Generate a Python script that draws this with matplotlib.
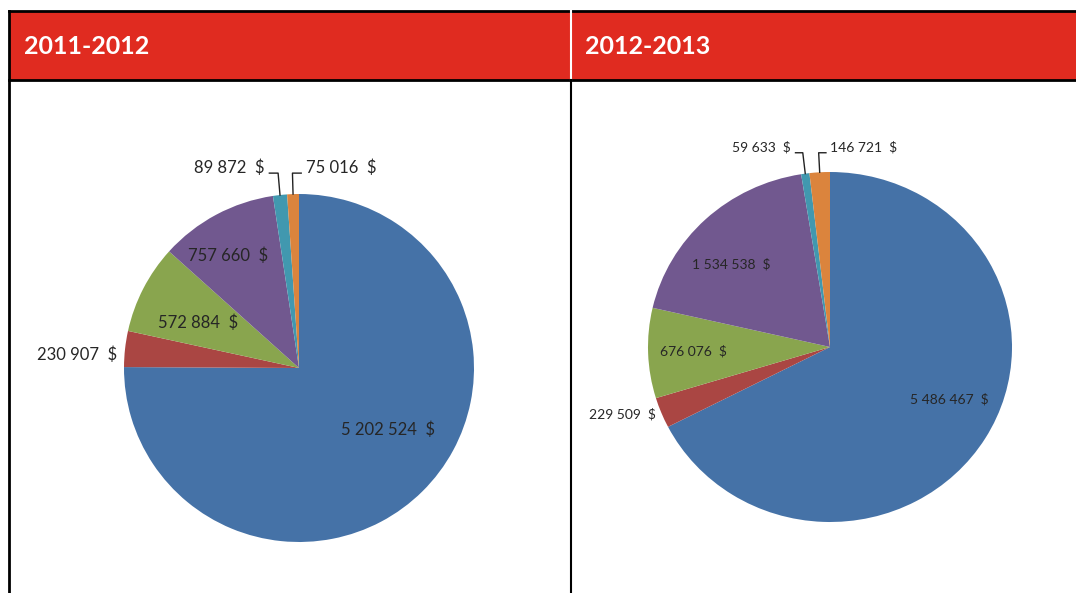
import matplotlib
matplotlib.use("Agg")
import matplotlib.pyplot as plt
import matplotlib.patches as patches
import numpy as np

plt.rcParams['font.family'] = ['Lato', 'DejaVu Sans']

# data
periods = ["2011-2012", "2012-2013"]
values_2011 = [5202524, 230907, 572884, 757660, 89872, 75016]
values_2012 = [5486467, 229509, 676076, 1534538, 59633, 146721]
slice_colors = ['#4572A7', '#AA4643', '#89A54E', '#71588F', '#4198AF', '#DB843D']
header_red = '#E02B20'

W, H = 1076, 593


def fmt(v):
    return f"{v:,}".replace(',', ' ') + '  $'


def draw_pie(ax, values, fs, label_tweaks, elbow_y=1.11):
    wedges, _ = ax.pie(values, colors=slice_colors, startangle=90, counterclock=False,
                       radius=1.0, wedgeprops=dict(linewidth=0))
    ax.set_xlim(-1, 1)
    ax.set_ylim(-1, 1)
    ax.set_aspect('auto')
    ax.axis('off')
    for i, (w, v) in enumerate(zip(wedges, values)):
        mid = np.deg2rad((w.theta1 + w.theta2) / 2)
        kind, r, dang = label_tweaks[i]
        a = mid + np.deg2rad(dang)
        if kind == 'in':
            ax.text(r * np.cos(a), r * np.sin(a), fmt(v), ha='center', va='center',
                    fontsize=fs, color='#262626', clip_on=False)
        elif kind == 'side':
            ax.text(r * np.cos(a), r * np.sin(a), fmt(v), ha='right', va='center',
                    fontsize=fs, color='#262626', clip_on=False)
        else:
            # leader line: up from slice edge, then sideways
            ex, ey = np.cos(mid), np.sin(mid)
            bx, by = ex * 1.1, elbow_y
            d = -1 if kind == 'left' else 1
            cx = bx + d * r
            ax.plot([ex, bx, cx], [ey, by, by], color='#222222', lw=1.0, clip_on=False)
            ax.text(cx + d * 0.025, by + 0.03, fmt(v), ha='right' if d < 0 else 'left',
                    va='center', fontsize=fs, color='#262626', clip_on=False)


fig = plt.figure(figsize=(W / 100, H / 100), dpi=100)

# table frame
bg = fig.add_axes([0, 0, 1, 1])
bg.set_xlim(0, W)
bg.set_ylim(H, 0)
bg.axis('off')
bg.add_patch(patches.Rectangle((9, 11), W - 9, 69, facecolor=header_red, edgecolor='none'))
bg.plot([9, W], [11, 11], color='black', lw=2)
bg.plot([9, W], [80, 80], color='black', lw=2)
bg.plot([9, 9], [11, H], color='black', lw=2)
bg.plot([571, 571], [11, 80], color='white', lw=1.5)
bg.plot([571, 571], [80, H], color='black', lw=1.5)
bg.text(24, 46, periods[0], color='white', fontsize=18, fontweight='bold', va='center', ha='left')
bg.text(585, 46, periods[1], color='white', fontsize=18, fontweight='bold', va='center', ha='left')

# pie 1: center (299, 368), radius 175
ax1 = fig.add_axes([(299 - 175) / W, (H - 368 - 174) / H, 350 / W, 348 / H])
draw_pie(ax1, values_2011, 12,
         [('in', 0.62, 10), ('side', 1.04, 2), ('in', 0.63, 3), ('in', 0.76, 4),
          ('left', 0.05, 0), ('right', 0.05, 0)], elbow_y=1.12)

# pie 2: center (830, 347), radius 182 x 175
ax2 = fig.add_axes([(830 - 182) / W, (H - 347 - 175) / H, 364 / W, 350 / H])
draw_pie(ax2, values_2012, 10,
         [('in', 0.72, 7), ('side', 1.03, 0), ('in', 0.75, 0), ('in', 0.72, 6),
          ('left', 0.04, 0), ('right', 0.04, 0)])

fig.savefig('out.png', dpi=100)
